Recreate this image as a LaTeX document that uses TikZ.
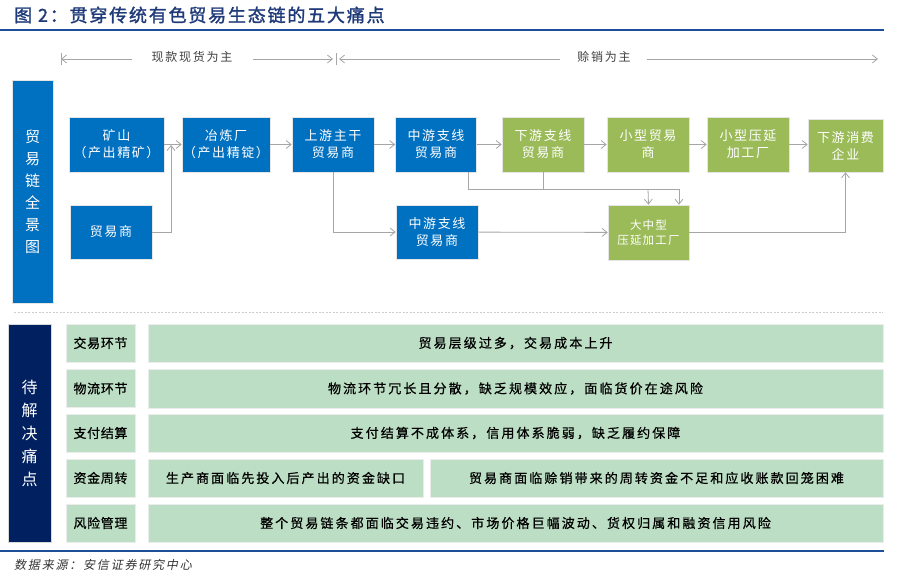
\documentclass[tikz,border=0pt]{standalone}
\usepackage{fontspec}
\setmainfont{Noto Sans CJK SC}
\newfontfamily\cjkb{Noto Sans CJK SC}[FakeBold=1.5]
\newfontfamily\cjkm{Noto Sans CJK SC}[FakeBold=0.6]
\usetikzlibrary{arrows.meta}
\definecolor{bblue}{HTML}{0070C0}
\definecolor{ggreen}{HTML}{9BBB59}
\definecolor{lgreen}{HTML}{BCDEC4}
\definecolor{navy}{HTML}{002060}
\definecolor{tnavy}{HTML}{1F3A78}
\definecolor{lineb}{HTML}{1F4E99}
\begin{document}
\begin{tikzpicture}[x=1pt,y=-1pt,
  box/.style={draw=white!80!gray,line width=0.6pt,text=white,font=\fontsize{13}{17}\selectfont\addfontfeatures{LetterSpace=12},align=center,inner sep=0pt},
  bb/.style={box,fill=bblue},
  gb/.style={box,fill=ggreen},
  conn/.style={draw=gray!70,line width=0.8pt,-{Straight Barb[length=5pt,width=8pt]}},
  plain/.style={draw=gray!70,line width=0.8pt},
  lab/.style={fill=lgreen,draw=white!85!gray,inner sep=0pt,font=\cjkm\fontsize{13}{16}\selectfont\addfontfeatures{LetterSpace=16}}]
\useasboundingbox (0,0) rectangle (905,575);
% title
\node[anchor=west,text=tnavy,font=\cjkb\fontsize{18}{21}\selectfont\addfontfeatures{LetterSpace=10},inner sep=0pt] (title) at (14,15) {图 2：贯穿传统有色贸易生态链的五大痛点};
\draw[lineb,line width=1.6pt] (0,30) -- (884,30);
% top arrows
\node[font=\fontsize{12}{14}\selectfont\addfontfeatures{LetterSpace=15},text=black!75,inner sep=0pt] (xk) at (192,57) {现款现货为主};
\node[font=\fontsize{12}{14}\selectfont\addfontfeatures{LetterSpace=15},text=black!75,inner sep=0pt] (sx) at (604,57) {赊销为主};
\coordinate (t1) at (61,59); \coordinate (t2) at (336,59); \coordinate (t3) at (878,59);
\draw[gray!70,line width=0.8pt] (61,53) -- (61,65) (336,53) -- (336,65);
\draw[conn] (132,59) -- (t1);
\draw[conn] (253,59) -- (333,59);
\draw[conn] (560,59) -- (339,59);
\draw[conn] (647,59) -- (t3);
% left bar
\node[fill=bblue,draw=white!80!gray,minimum width=41pt,minimum height=223pt,inner sep=0pt,text=white,font=\fontsize{15}{22}\selectfont,align=center] (bar1) at (32.5,191.5) {贸\\易\\链\\全\\景\\图};
% boxes
\node[bb,minimum width=95pt,minimum height=55pt] (ks) at (116.5,144.5) {矿山\\（产出精矿）};
\node[bb,minimum width=88pt,minimum height=55pt] (yl) at (226,144.5) {冶炼厂\\（产出精锭）};
\node[bb,minimum width=82pt,minimum height=55pt] (sy) at (333,144.5) {上游主干\\贸易商};
\node[bb,minimum width=81pt,minimum height=55pt] (zy1) at (436,144.5) {中游支线\\贸易商};
\node[gb,minimum width=82pt,minimum height=55pt] (xy) at (543,144.5) {下游支线\\贸易商};
\node[gb,minimum width=82pt,minimum height=55pt] (xm) at (648,144.5) {小型贸易\\商};
\node[gb,minimum width=82pt,minimum height=55pt] (xyy) at (748,144.5) {小型压延\\加工厂};
\node[gb,minimum width=75pt,minimum height=53pt] (xf) at (845.5,145.5) {下游消费\\企业};
\node[bb,minimum width=82pt,minimum height=54pt] (my) at (111,232) {贸易商};
\node[bb,minimum width=82pt,minimum height=54pt] (zy2) at (437,232) {中游支线\\贸易商};
\node[gb,minimum width=81pt,minimum height=55pt,font=\fontsize{11.5}{15}\selectfont\addfontfeatures{LetterSpace=10}] (dz) at (648.5,232.5) {大中型\\压延加工厂};
% connectors
\draw[conn] (ks) -- (yl);
\coordinate (j1) at (171,145);
\draw[conn] (my.east) -| (j1);
\draw[conn] (yl) -- (sy);
\draw[conn] (sy) -- (zy1);
\draw[conn] (zy1) -- (xy);
\draw[conn] (xy) -- (xm);
\draw[conn] (xm) -- (xyy);
\draw[conn] (xyy.east) -- (xf.west |- xyy.east);
\draw[conn] (sy.south) |- (zy2.west);
\draw[conn] (zy2) -- (dz);
\coordinate (h1) at (468,189); \coordinate (h2) at (679,189); \coordinate (h3) at (543,189); \coordinate (h4) at (648,189);
\draw[plain] (zy1.south -| h1) -- (h1) -- (h2);
\draw[conn] (h2) -- (h2 |- dz.north);
\draw[plain] (xy.south) -- (h3);
\draw[conn] (h4) -- (dz.north);
\draw[conn] (dz.east) -| (xf.south);
% dashed separator
\draw[gray!40,line width=0.8pt,dash pattern=on 2pt off 1.5pt] (14,312) -- (883,312);
% bottom section
\node[fill=navy,draw=white!70!gray,minimum width=43pt,minimum height=218pt,inner sep=0pt,text=white,font=\fontsize{16}{23}\selectfont,align=center] (bar2) at (29.5,433) {待\\解\\决\\痛\\点};
\foreach \n/\y/\t in {r1/343/交易环节, r2/388.5/物流环节, r3/433/支付结算, r4/478/资金周转, r5/523/风险管理}{
  \node[lab,minimum width=69pt,minimum height=38pt,font=\cjkm\fontsize{13}{16}\selectfont\addfontfeatures{LetterSpace=5}] (\n) at (100.5,\y) {\t};
}
\node[lab,minimum width=735pt,minimum height=38pt] (c1) at (515.5,343) {贸易层级过多，交易成本上升};
\node[lab,minimum width=735pt,minimum height=39pt] (c2) at (515.5,388.5) {物流环节冗长且分散，缺乏规模效应，面临货价在途风险};
\node[lab,minimum width=735pt,minimum height=38pt] (c3) at (515.5,433) {支付结算不成体系，信用体系脆弱，缺乏履约保障};
\node[lab,minimum width=275pt,minimum height=38pt] (c4a) at (285.5,478) {生产商面临先投入后产出的资金缺口};
\node[lab,minimum width=453pt,minimum height=38pt] (c4b) at (656.5,478) {贸易商面临赊销带来的周转资金不足和应收账款回笼困难};
\node[lab,minimum width=735pt,minimum height=38pt] (c5) at (515.5,523) {整个贸易链条都面临交易违约、市场价格巨幅波动、货权归属和融资信用风险};
\draw[lineb,line width=1.6pt] (0,551) -- (884,551);
\node[anchor=west,inner sep=0pt,font=\fontsize{12}{14}\selectfont\addfontfeatures{FakeSlant=0.2,LetterSpace=15},text=black!80] (src) at (14,565) {数据来源：安信证券研究中心};
\end{tikzpicture}
\end{document}
